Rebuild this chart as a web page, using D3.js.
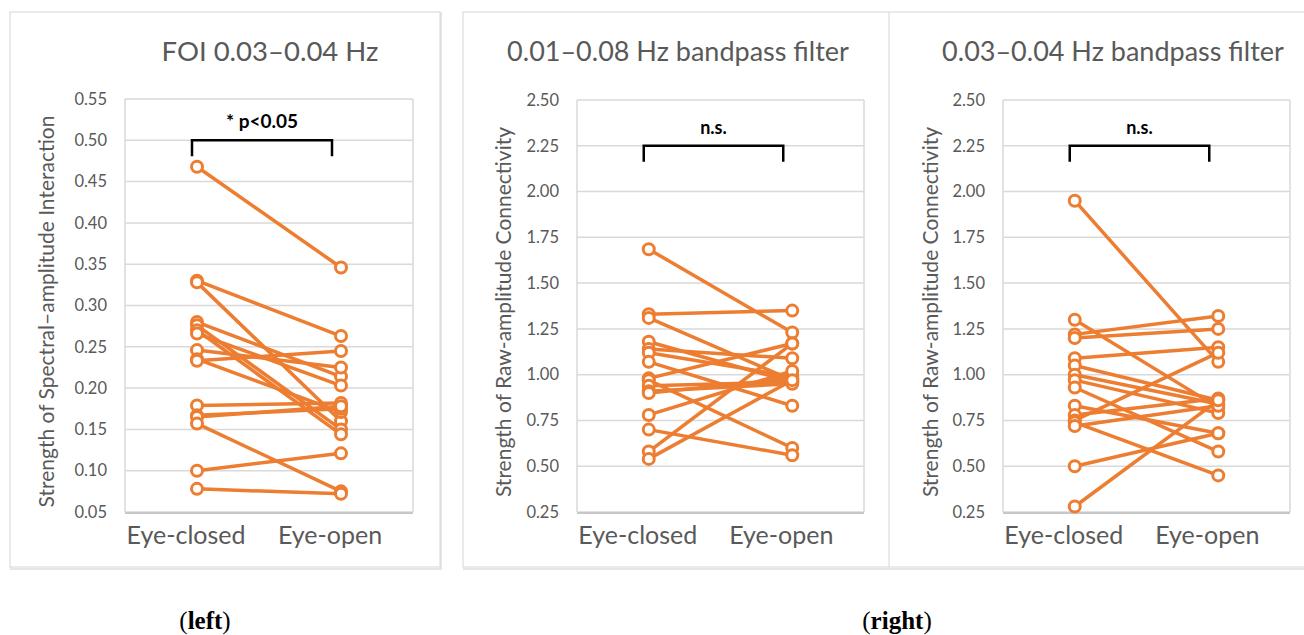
<!DOCTYPE html>
<html>
<head>
<meta charset="utf-8">
<script src="https://cdn.jsdelivr.net/npm/d3@7"></script>
<style>
  body { margin: 0; background: #fff; }
  svg { display: block; }
</style>
</head>
<body>
<div id="chart"></div>
<script>
// values, paired by subject (closed[i] -> open[i])
const groups = ["Eye-closed", "Eye-open"]

const foiClosed = [0.468, 0.330, 0.328, 0.280, 0.276, 0.270, 0.266, 0.246, 0.235, 0.233, 0.179, 0.167, 0.165, 0.157, 0.100, 0.078]
const foiOpen   = [0.346, 0.263, 0.160, 0.214, 0.150, 0.144, 0.203, 0.225, 0.171, 0.245, 0.182, 0.175, 0.178, 0.075, 0.121, 0.072]

const wideClosed = [1.685, 1.33, 1.31, 1.18, 1.14, 1.12, 1.07, 0.98, 0.97, 0.94, 0.91, 0.90, 0.78, 0.70, 0.58, 0.54]
const wideOpen   = [1.23, 1.35, 0.97, 0.96, 1.09, 0.99, 0.83, 1.17, 0.60, 0.96, 0.95, 0.98, 1.02, 0.56, 1.17, 0.97]

const narrowClosed = [1.95, 1.30, 1.22, 1.20, 1.09, 1.05, 1.00, 0.97, 0.93, 0.83, 0.78, 0.75, 0.74, 0.72, 0.50, 0.28]
const narrowOpen   = [1.07, 0.82, 1.32, 1.25, 1.15, 0.86, 0.84, 0.79, 0.58, 0.68, 0.87, 1.12, 0.45, 0.83, 0.68, 0.86]

const foiTicks = [0.05, 0.10, 0.15, 0.20, 0.25, 0.30, 0.35, 0.40, 0.45, 0.50, 0.55]
const rawTicks = [0.25, 0.50, 0.75, 1.00, 1.25, 1.50, 1.75, 2.00, 2.25, 2.50]

const width = 1304, height = 635
const orange = "#ED7D31", grid = "#d9d9d9", textCol = "#595959"
const font = "Lato, 'DejaVu Sans', sans-serif"

const svg = d3.select("#chart").append("svg")
  .attr("width", width).attr("height", height)

// outer frames
svg.append("rect").attr("x", 11).attr("y", 13).attr("width", 430).attr("height", 556)
  .attr("fill", "none").attr("stroke", "#e6e6e6").attr("stroke-width", 2)
svg.append("rect").attr("x", 10).attr("y", 12).attr("width", 430).attr("height", 555)
  .attr("fill", "#fff").attr("stroke", "#d6d6d6")
svg.append("rect").attr("x", 464).attr("y", 13).attr("width", 850).attr("height", 556)
  .attr("fill", "none").attr("stroke", "#e6e6e6").attr("stroke-width", 2)
svg.append("rect").attr("x", 463).attr("y", 12).attr("width", 850).attr("height", 555)
  .attr("fill", "#fff").attr("stroke", "#d6d6d6")
svg.append("line").attr("x1", 889).attr("x2", 889).attr("y1", 12).attr("y2", 567)
  .attr("stroke", "#d6d6d6")

function drawPanel(p) {
  const g = svg.append("g")
  const x = d3.scaleBand().domain(groups).range([p.left, p.right]).padding(0)
  const y = d3.scaleLinear().domain(p.domain).range([p.bottom, p.top])
  const cx = d => x(d) + x.bandwidth() / 2

  // gridlines
  g.append("g").selectAll("line").data(p.ticks).join("line")
    .attr("x1", p.left).attr("x2", p.right)
    .attr("y1", d => y(d)).attr("y2", d => y(d))
    .attr("stroke", grid).attr("stroke-width", 1.5)
  g.append("line").attr("x1", p.left).attr("x2", p.left).attr("y1", p.top).attr("y2", p.bottom)
    .attr("stroke", grid).attr("stroke-width", 1.5)
  g.append("line").attr("x1", p.right).attr("x2", p.right).attr("y1", p.top).attr("y2", p.bottom)
    .attr("stroke", grid).attr("stroke-width", 1.5)
  g.append("line").attr("x1", p.left).attr("x2", p.right).attr("y1", p.bottom + 1).attr("y2", p.bottom + 1)
    .attr("stroke", "#c8c8c8").attr("stroke-width", 2)

  // y axis
  const yAxis = d3.axisLeft(y).tickValues(p.ticks).tickFormat(d3.format(".2f")).tickSize(0).tickPadding(18)
  const ya = g.append("g").attr("transform", `translate(${p.left},0)`).call(yAxis)
  ya.select(".domain").remove()
  ya.selectAll("text").attr("font-family", font).attr("font-size", 16.5).attr("fill", textCol)

  // x axis labels
  const xa = g.append("g").attr("transform", `translate(0,${p.bottom})`)
    .call(d3.axisBottom(x).tickSize(0).tickPadding(14))
  xa.select(".domain").remove()
  xa.selectAll("text").attr("font-family", font).attr("font-size", 25).attr("fill", textCol)
    .attr("dx", -11)

  // paired lines
  const pairs = p.closed.map((c, i) => [c, p.open[i]])
  g.append("g").selectAll("line").data(pairs).join("line")
    .attr("x1", cx(groups[0])).attr("x2", cx(groups[1]))
    .attr("y1", d => y(d[0])).attr("y2", d => y(d[1]))
    .attr("stroke", orange).attr("stroke-width", 3.5)
  g.append("g").selectAll("circle").data(p.closed).join("circle")
    .attr("cx", cx(groups[0])).attr("cy", d => y(d)).attr("r", 5.5)
    .attr("fill", "#fff").attr("stroke", orange).attr("stroke-width", 3)
  g.append("g").selectAll("circle").data(p.open).join("circle")
    .attr("cx", cx(groups[1])).attr("cy", d => y(d)).attr("r", 5.5)
    .attr("fill", "#fff").attr("stroke", orange).attr("stroke-width", 3)

  // significance bracket
  const bx1 = cx(groups[0]) - 5, bx2 = cx(groups[1]) - 9, by = y(p.bracket)
  g.append("path")
    .attr("d", `M${bx1},${by + 16}V${by}H${bx2}V${by + 16}`)
    .attr("fill", "none").attr("stroke", "#000").attr("stroke-width", 2.5)
  g.append("text").attr("x", (bx1 + bx2) / 2).attr("y", by - 12)
    .attr("text-anchor", "middle").attr("font-family", font).attr("font-weight", "bold")
    .attr("font-size", p.sigSize).attr("fill", "#000").text(p.sig)

  // title
  g.append("text").attr("x", p.titleX).attr("y", 61).attr("text-anchor", "middle")
    .attr("font-family", font).attr("font-size", p.titleSize).attr("fill", textCol).text(p.title)

  // y title
  g.append("text")
    .attr("transform", `translate(${p.yTitleX},${(p.top + p.bottom) / 2 + 6}) rotate(-90)`)
    .attr("text-anchor", "middle").attr("font-family", font).attr("font-size", 21)
    .attr("fill", textCol).text(p.yTitle)
}

drawPanel({
  left: 125, right: 413, top: 99, bottom: 512, domain: [0.05, 0.55], ticks: foiTicks,
  closed: foiClosed, open: foiOpen, bracket: 0.50, sig: "* p<0.05", sigSize: 19,
  title: "FOI 0.03–0.04 Hz", titleX: 270, titleSize: 27.5,
  yTitle: "Strength of Spectral–amplitude Interaction", yTitleX: 54
})
drawPanel({
  left: 577, right: 864, top: 100, bottom: 512, domain: [0.25, 2.50], ticks: rawTicks,
  closed: wideClosed, open: wideOpen, bracket: 2.25, sig: "n.s.", sigSize: 18,
  title: "0.01–0.08 Hz bandpass filter", titleX: 678, titleSize: 27,
  yTitle: "Strength of Raw-amplitude Connectivity", yTitleX: 511
})
drawPanel({
  left: 1003, right: 1290, top: 100, bottom: 512, domain: [0.25, 2.50], ticks: rawTicks,
  closed: narrowClosed, open: narrowOpen, bracket: 2.25, sig: "n.s.", sigSize: 18,
  title: "0.03–0.04 Hz bandpass filter", titleX: 1113, titleSize: 27,
  yTitle: "Strength of Raw-amplitude Connectivity", yTitleX: 938
})

// captions
const cap = svg.append("g").attr("font-family", "'Liberation Serif', serif").attr("font-size", 25).attr("fill", "#000")
cap.append("text").attr("x", 205).attr("y", 629).attr("text-anchor", "middle")
  .html("(<tspan font-weight='bold'>left</tspan>)")
cap.append("text").attr("x", 897).attr("y", 629).attr("text-anchor", "middle")
  .html("(<tspan font-weight='bold'>right</tspan>)")
</script>
</body>
</html>
